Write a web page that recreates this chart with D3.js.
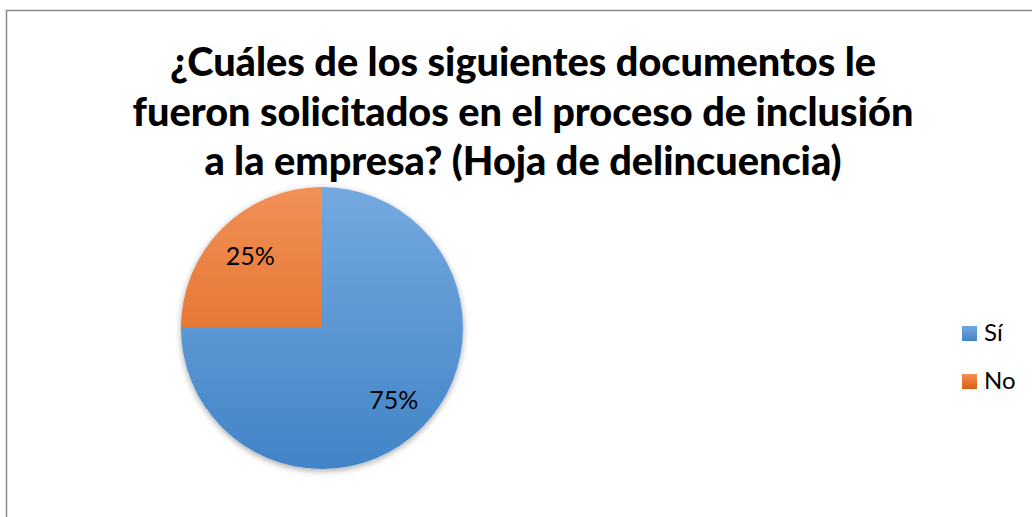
<!DOCTYPE html>
<html>
<head>
<meta charset="utf-8">
<script src="https://cdn.jsdelivr.net/npm/d3@7"></script>
<style>
  body { margin: 0; background: #fff; }
  svg { display: block; }
</style>
</head>
<body>
<svg id="chart"></svg>
<script>
const titleLines = ['¿Cuáles de los siguientes documentos le', 'fueron solicitados en el proceso de inclusión', 'a la empresa? (Hoja de delincuencia)']
const categories = ['Sí', 'No']
const values = [75, 25]
const labels = ['75%', '25%']

const width = 1032
const height = 517
const font = 'Lato, "Open Sans", sans-serif'

const svg = d3.select('#chart')
    .attr('width', width)
    .attr('height', height)

// gradientes verticales y sombra
const defs = svg.append('defs')
const cx = 322
const cy = 328
const r = 141
const grads = [
    { id: 'gSi', top: '#74a9df', bottom: '#4184c7' },
    { id: 'gNo', top: '#f29058', bottom: '#d95f10' }]
grads.forEach(g => {
    // coordenadas locales del grupo del pastel (centrado en 0,0)
    const lg = defs.append('linearGradient')
        .attr('id', g.id)
        .attr('gradientUnits', 'userSpaceOnUse')
        .attr('x1', 0).attr('y1', -r)
        .attr('x2', 0).attr('y2', r)
    lg.append('stop').attr('offset', '0%').attr('stop-color', g.top)
    lg.append('stop').attr('offset', '100%').attr('stop-color', g.bottom)
    const lg2 = defs.append('linearGradient')
        .attr('id', 'l' + g.id)
        .attr('x1', 0).attr('y1', 0).attr('x2', 0).attr('y2', 1)
    lg2.append('stop').attr('offset', '0%').attr('stop-color', g.top)
    lg2.append('stop').attr('offset', '100%').attr('stop-color', g.bottom)
})
const shadow = defs.append('filter').attr('id', 'shadow')
    .attr('x', '-20%').attr('y', '-20%').attr('width', '140%').attr('height', '140%')
shadow.append('feDropShadow')
    .attr('dx', 0).attr('dy', 2).attr('stdDeviation', 3)
    .attr('flood-color', '#000').attr('flood-opacity', 0.35)

// marco
svg.append('rect')
    .attr('x', 6.5).attr('y', 10.5)
    .attr('width', width + 10).attr('height', height + 10)
    .attr('fill', 'none')
    .attr('stroke', '#8c8c8c')
    .attr('stroke-width', 1.5)

// titulo
const title = svg.append('g')
title.selectAll('text')
    .data(titleLines)
    .enter()
    .append('text')
    .attr('x', 523)
    .attr('y', (d, i) => 76 + i * 49.5)
    .attr('text-anchor', 'middle')
    .style('font-family', font)
    .style('font-weight', 900)
    .style('font-size', '37px')
    .attr('fill', '#000')
    .text(d => d)
// ajustar ancho de la segunda linea a ~781px
const w2 = title.selectAll('text').nodes()[1].getComputedTextLength()
title.selectAll('text').style('font-size', (37 * 781 / w2) + 'px')

// pastel
const color = d3.scaleOrdinal().domain(categories).range(['url(#gSi)', 'url(#gNo)'])
const legendColor = d3.scaleOrdinal().domain(categories).range(['url(#lgSi)', 'url(#lgNo)'])
const pie = d3.pie().sort(null).value(d => d.value)
const arc = d3.arc().innerRadius(0).outerRadius(r)
const labelArc = d3.arc().innerRadius(r * 0.72).outerRadius(r * 0.72)
const data = categories.map((c, i) => ({ name: c, value: values[i], label: labels[i] }))

const g = svg.append('g').attr('transform', `translate(${cx},${cy})`)
g.append('g')
    .attr('filter', 'url(#shadow)')
    .selectAll('path')
    .data(pie(data))
    .enter()
    .append('path')
    .attr('d', arc)
    .attr('fill', d => color(d.data.name))

g.selectAll('text.lbl')
    .data(pie(data))
    .enter()
    .append('text')
    .attr('class', 'lbl')
    .attr('transform', d => `translate(${labelArc.centroid(d)})`)
    .attr('text-anchor', 'middle')
    .attr('dy', '0.36em')
    .style('font-family', font)
    .style('font-size', '25px')
    .attr('fill', '#000')
    .text(d => d.data.label)

// leyenda
const legend = svg.append('g')
    .attr('transform', 'translate(962, 326)')
const item = legend.selectAll('g')
    .data(categories)
    .enter()
    .append('g')
    .attr('transform', (d, i) => `translate(0, ${i * 48})`)
item.append('rect')
    .attr('width', 15)
    .attr('height', 15)
    .attr('fill', d => legendColor(d))
item.append('text')
    .attr('x', 22)
    .attr('y', 15)
    .style('font-family', font)
    .style('font-size', '24px')
    .attr('fill', '#000')
    .text(d => d)
</script>
</body>
</html>
